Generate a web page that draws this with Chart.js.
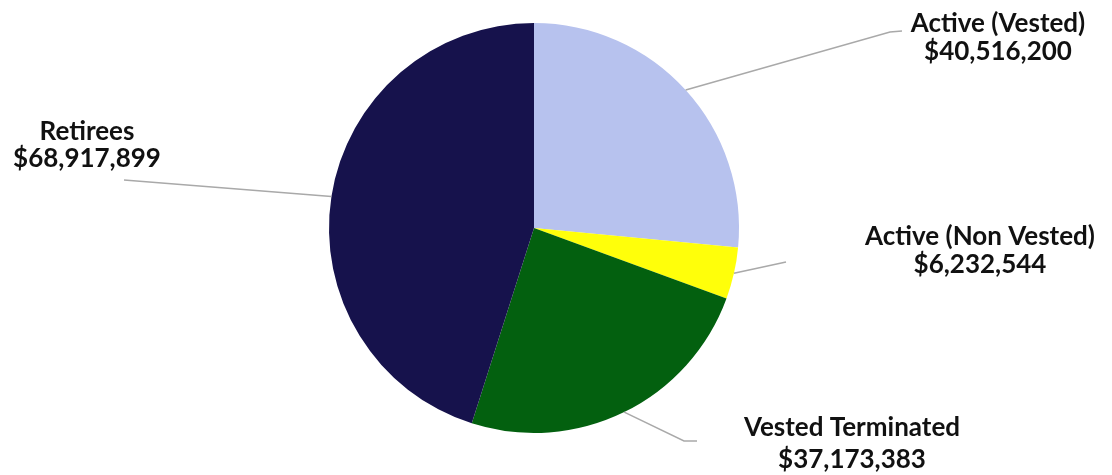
<!DOCTYPE html>
<html>
<head>
<meta charset="utf-8">
<script src="https://cdn.jsdelivr.net/npm/chart.js@4"></script>
<style>
  html, body { margin: 0; padding: 0; background: #fff; }
  #wrap { width: 1112px; height: 475px; }
</style>
</head>
<body>
<div id="wrap"><canvas id="pie"></canvas></div>
<script>
// data
const categories = ["Active (Vested)", "Active (Non Vested)", "Vested Terminated", "Retirees"];
const amounts = [40516200, 6232544, 37173383, 68917899];
const sliceColors = ["#b7c2ee", "#ffff0a", "#03600f", "#16124c"];

// where each label sits (centre x, first baseline y, line gap) and where its leader line bends / ends
const labelSpots = [
  { x: 998, y: 32, gap: 28, line: [[890, 32], [902, 31]] },
  { x: 980, y: 245, gap: 28, line: [[786, 262]] },
  { x: 852, y: 436, gap: 32, line: [[684, 441], [697, 441]] },
  { x: 87, y: 140, gap: 27, line: [[124, 180]] }
];

function money(v) {
  return "$" + v.toLocaleString("en-US");
}

// leader lines + labels
const calloutPlugin = {
  id: "callouts",
  afterDatasetsDraw(chart) {
    const ctx = chart.ctx;
    const arcs = chart.getDatasetMeta(0).data;
    ctx.save();
    arcs.forEach((arc, i) => {
      const mid = (arc.startAngle + arc.endAngle) / 2;
      const sx = arc.x + Math.cos(mid) * arc.outerRadius;
      const sy = arc.y + Math.sin(mid) * arc.outerRadius;
      const spot = labelSpots[i];
      ctx.strokeStyle = "#a9a9a9";
      ctx.lineWidth = 1.5;
      ctx.beginPath();
      ctx.moveTo(sx, sy);
      spot.line.forEach(p => ctx.lineTo(p[0], p[1]));
      ctx.stroke();

      ctx.fillStyle = "#111";
      ctx.font = "bold 26px Lato";
      ctx.textAlign = "center";
      ctx.textBaseline = "alphabetic";
      ctx.fillText(categories[i], spot.x, spot.y);
      ctx.fillText(money(amounts[i]), spot.x, spot.y + spot.gap);
    });
    ctx.restore();
  }
};

new Chart(document.getElementById("pie"), {
  type: "pie",
  data: {
    labels: categories,
    datasets: [{
      data: amounts,
      backgroundColor: sliceColors,
      borderWidth: 0
    }]
  },
  options: {
    responsive: true,
    maintainAspectRatio: false,
    animation: false,
    layout: { padding: { left: 60, right: 104, top: 23, bottom: 42 } },
    plugins: {
      legend: { display: false },
      tooltip: { enabled: false }
    }
  },
  plugins: [calloutPlugin]
});
</script>
</body>
</html>
